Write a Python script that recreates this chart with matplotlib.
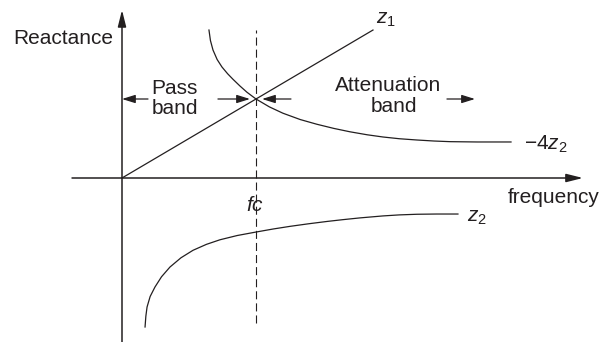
import matplotlib.pyplot as plt

plt.rcParams['font.family'] = ['Liberation Sans', 'DejaVu Sans']
plt.rcParams['mathtext.fontset'] = 'custom'
plt.rcParams['mathtext.rm'] = 'Liberation Sans'
plt.rcParams['mathtext.it'] = 'Liberation Sans:italic'
plt.rcParams['lines.scale_dashes'] = False

# frequency in units of fc, reactance in units of z1(fc)
z1_freq = [0.0, 1.873]
z1_react = [0.0, 1.873]

neg4z2_freq = [0.649, 0.660, 0.679, 0.710, 0.746, 0.788, 0.828, 0.880, 0.933, 1.0,
               1.10, 1.201, 1.33, 1.455, 1.58, 1.701, 1.83, 1.948, 2.07, 2.201,
               2.33, 2.448, 2.65, 2.903]
neg4z2_react = [1.873, 1.74, 1.620, 1.50, 1.405, 1.32, 1.25, 1.165, 1.085, 1.0,
                0.90, 0.82, 0.74, 0.68, 0.628, 0.585, 0.547, 0.519, 0.497, 0.481,
                0.468, 0.460, 0.456, 0.456]

z2_freq = [0.172, 0.178, 0.187, 0.210, 0.246, 0.295, 0.358, 0.440, 0.530, 0.630,
           0.731, 0.86, 1.0, 1.13, 1.254, 1.39, 1.530, 1.65, 1.776, 1.948,
           2.07, 2.201, 2.35, 2.507]
z2_react = [-1.886, -1.75, -1.633, -1.50, -1.380, -1.25, -1.127, -1.01, -0.915, -0.840,
            -0.782, -0.728, -0.684, -0.645, -0.612, -0.580, -0.550, -0.527, -0.505, -0.480,
            -0.467, -0.459, -0.456, -0.456]

fc = 1.0
fc_line = [-1.835, 1.873]

ink = '#231f20'

fig = plt.figure(figsize=(6.01, 3.42), dpi=100)
ax = fig.add_axes([0, 0, 1, 1])
ax.set_xlim(-122 / 134, 479 / 134)
ax.set_ylim(-164 / 79, 178 / 79)
ax.axis('off')


def arrow(tail, tip, lw=0.9, hl=0.8, hw=0.25):
    ax.annotate('', xy=tip, xytext=tail,
                arrowprops=dict(arrowstyle='-|>,head_length=%s,head_width=%s' % (hl, hw),
                                lw=lw, color=ink, shrinkA=0, shrinkB=0,
                                mutation_scale=10))


# axes
arrow((-0.373, 0.0), (3.44, 0.0), lw=1.1, hl=1.0, hw=0.25)
arrow((0.0, -2.1), (0.0, 2.127), lw=1.1, hl=1.0, hw=0.25)

# curves
ax.plot(z1_freq, z1_react, color=ink, lw=0.9)
ax.plot(neg4z2_freq, neg4z2_react, color=ink, lw=0.9)
ax.plot(z2_freq, z2_react, color=ink, lw=0.9)
ax.plot([fc, fc], fc_line, color=ink, lw=0.8, dashes=(5.8, 2.9))

# band arrows
arrow((0.194, 1.0), (0.0, 1.0))
arrow((0.716, 1.0), (0.955, 1.0))
arrow((1.261, 1.0), (1.045, 1.0))
arrow((2.425, 1.0), (2.634, 1.0))

fs = 15
ax.text(-0.067, 1.772, 'Reactance', ha='right', va='center', fontsize=fs, color=ink)
ax.text(0.392, 1.139, 'Pass', ha='center', va='center', fontsize=fs, color=ink)
ax.text(0.392, 0.886, 'band', ha='center', va='center', fontsize=fs, color=ink)
ax.text(1.989, 1.177, 'Attenuation', ha='center', va='center', fontsize=fs, color=ink)
ax.text(2.026, 0.899, 'band', ha='center', va='center', fontsize=fs, color=ink)
ax.text(2.881, -0.241, 'frequency', ha='left', va='center', fontsize=fs, color=ink)
ax.text(0.993, -0.342, '$fc$', ha='center', va='center', fontsize=fs, color=ink)
ax.text(1.896, 2.0, '$z_1$', ha='left', va='center', fontsize=fs, color=ink)
ax.text(3.0, 0.43, '$-4z_2$', ha='left', va='center', fontsize=fs, color=ink)
ax.text(2.575, -0.494, '$z_2$', ha='left', va='center', fontsize=fs, color=ink)

fig.savefig('out.png', dpi=100)
